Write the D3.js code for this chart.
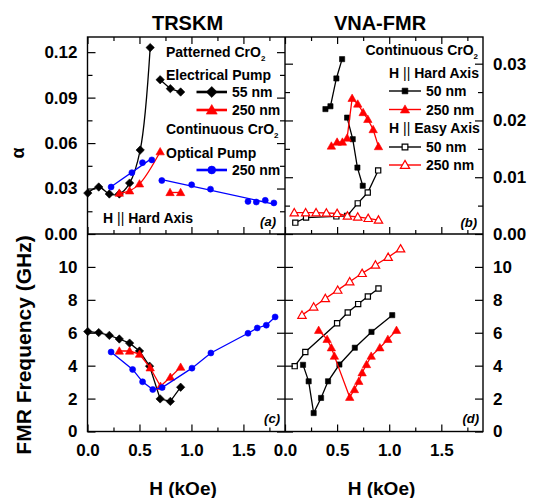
<!DOCTYPE html>
<html>
<head>
<meta charset="utf-8">
<script src="https://cdn.jsdelivr.net/npm/d3@7"></script>
<style>
  body { margin: 0; background: #fff; }
  text { font-family: "Liberation Sans", Arial, sans-serif; font-weight: bold; }
</style>
</head>
<body>
<svg width="538" height="498"></svg>
<script>
// ---- panel (a): TRSKM damping, [H (kOe), alpha]
const a55 = [[0.003, 0.027], [0.108, 0.031], [0.21, 0.0264], [0.306, 0.0264], [0.405, 0.0336], [0.507, 0.0554], [0.603, 0.123]];
const a55High = [[0.699, 0.1018], [0.797, 0.0959], [0.896, 0.0937]];
const a250 = [[0.306, 0.027], [0.405, 0.0285], [0.5, 0.0331], [0.699, 0.0543]];
const a250High = [[0.794, 0.0274], [0.896, 0.0274]];
const aOpt = [[0.227, 0.031], [0.427, 0.0405], [0.529, 0.0471], [0.619, 0.0489]];
const aOptHigh = [[0.715, 0.0353], [1.002, 0.0325], [1.183, 0.0296], [1.544, 0.0215], [1.624, 0.0211], [1.71, 0.0222], [1.793, 0.0205]];

// ---- panel (b): VNA-FMR damping
const bHard50 = [[0.388, 0.0220], [0.436, 0.0225], [0.493, 0.0274], [0.548, 0.0308]];
const bHard50High = [[0.596, 0.0205], [0.65, 0.0167], [0.695, 0.0117], [0.746, 0.0085]];
const bHard250 = [[0.445, 0.0155], [0.5, 0.0162], [0.551, 0.0162], [0.596, 0.0169], [0.644, 0.0239], [0.698, 0.0229], [0.75, 0.0214], [0.795, 0.0202], [0.846, 0.0184], [0.897, 0.0154]];
const bEasy50 = [[0.099, 0.0020], [0.202, 0.0029], [0.493, 0.0031], [0.596, 0.0032], [0.698, 0.0054], [0.794, 0.0073], [0.894, 0.0112]];
const bEasy250 = [[0.089, 0.00375], [0.198, 0.00375], [0.298, 0.00375], [0.397, 0.0037], [0.5, 0.00364], [0.599, 0.00317], [0.698, 0.0030], [0.798, 0.00276], [0.897, 0.00246]];

// ---- panel (c): TRSKM frequency, [H (kOe), GHz]
const c55 = [[0.003, 6.07], [0.108, 6.01], [0.21, 5.84], [0.306, 5.62], [0.405, 5.37], [0.5, 4.89], [0.597, 3.97], [0.699, 1.98], [0.797, 1.83], [0.896, 2.69]];
const c250 = [[0.306, 4.89], [0.405, 4.89], [0.5, 4.7], [0.603, 3.87], [0.702, 2.75], [0.797, 3.3], [0.896, 3.91]];
const cOpt = [[0.227, 4.83], [0.434, 3.77], [0.53, 3.02], [0.628, 2.55], [0.718, 2.67], [1.005, 3.85], [1.187, 4.77], [1.544, 5.97], [1.633, 6.29], [1.72, 6.46], [1.805, 6.96]];

// ---- panel (d): VNA-FMR frequency
const dEasy250 = [[0.163, 7.07], [0.275, 7.57], [0.387, 8.08], [0.506, 8.59], [0.621, 9.1], [0.74, 9.61], [0.868, 10.12], [0.99, 10.59], [1.109, 11.1]];
const dEasy50 = [[0.093, 3.97], [0.195, 4.83], [0.5, 6.58], [0.602, 7.23], [0.702, 7.74], [0.795, 8.2], [0.897, 8.69]];
const dHard50 = [[0.173, 4.05], [0.227, 3.05], [0.275, 1.12], [0.346, 2.04], [0.413, 3.05], [0.522, 4.07], [0.67, 5.09], [0.83, 6.05], [1.029, 7.07]];
const dHard250 = [[0.323, 6.15], [0.404, 5.6], [0.445, 5.09], [0.474, 4.58], [0.621, 2.08], [0.666, 2.55], [0.708, 3.05], [0.74, 3.57], [0.782, 4.07], [0.827, 4.58], [0.91, 5.09], [0.987, 5.6], [1.07, 6.15]];

// ticks
const xMajor = [0, 0.5, 1.0, 1.5];
const xMinor = [0.25, 0.75, 1.25, 1.75];
const alphaMajor = [0, 0.03, 0.06, 0.09, 0.12];
const alphaMinor = [0.015, 0.045, 0.075, 0.105];
const alphaVnaMajor = [0, 0.01, 0.02, 0.03];
const alphaVnaMinor = [0.005, 0.015, 0.025];
const freqMajor = [0, 2, 4, 6, 8, 10];

const svg = d3.select('svg');
const BLACK = '#000', RED = '#ff0000', BLUE = '#0000ff';

const xLeft = 87.5, xMid = 285, xRight = 483, yTop = 37, yMid = 234, yBottom = 431.5;

const xL = d3.scaleLinear().domain([0, 1.9]).range([xLeft, xMid]);
const xR = d3.scaleLinear().domain([0, 1.9]).range([xMid, xRight]);
const yA = d3.scaleLinear().domain([0, 0.13]).range([yMid, yTop]);
const yB = d3.scaleLinear().domain([0, 0.0347]).range([yMid, yTop]);
const yF = d3.scaleLinear().domain([0, 12]).range([yBottom, yMid]);

const shapes = {
    diamond: r => `M0,${-r}L${r},0L0,${r}L${-r},0Z`,
    tri: r => `M0,${-r}L${r},${r * 0.75}L${-r},${r * 0.75}Z`,
    square: r => `M${-r},${-r}H${r}V${r}H${-r}Z`,
    circle: r => `M${r},0A${r},${r} 0 1,1 ${-r},0A${r},${r} 0 1,1 ${r},0Z`
};
const sizes = {diamond: 4.2, tri: 4.2, square: 2.6, circle: 3};

// least squares line over the points, drawn between first and last x
const linFit = pts => {
    const mx = d3.mean(pts, d => d[0]), my = d3.mean(pts, d => d[1]);
    const k = d3.sum(pts, d => (d[0] - mx) * (d[1] - my)) / d3.sum(pts, d => (d[0] - mx) ** 2);
    const x0 = pts[0][0], x1 = pts[pts.length - 1][0];
    return [[x0, my + k * (x0 - mx)], [x1, my + k * (x1 - mx)]];
};

const series = [
    {pts: a55, x: xL, y: yA, c: BLACK, m: 'diamond', curve: d3.curveCatmullRom},
    {pts: a55High, x: xL, y: yA, c: BLACK, m: 'diamond'},
    {pts: a250, x: xL, y: yA, c: RED, m: 'tri', curve: d3.curveMonotoneX},
    {pts: a250High, x: xL, y: yA, c: RED, m: 'tri'},
    {pts: aOpt, x: xL, y: yA, c: BLUE, m: 'circle', fit: true},
    {pts: aOptHigh, x: xL, y: yA, c: BLUE, m: 'circle', fit: true},

    {pts: bEasy50, x: xR, y: yB, c: BLACK, m: 'square', open: true},
    {pts: bEasy250, x: xR, y: yB, c: RED, m: 'tri', open: true},
    {pts: bHard50, x: xR, y: yB, c: BLACK, m: 'square'},
    {pts: bHard50High, x: xR, y: yB, c: BLACK, m: 'square'},
    {pts: bHard250, x: xR, y: yB, c: RED, m: 'tri'},

    {pts: c55, x: xL, y: yF, c: BLACK, m: 'diamond'},
    {pts: c250, x: xL, y: yF, c: RED, m: 'tri'},
    {pts: cOpt, x: xL, y: yF, c: BLUE, m: 'circle'},

    {pts: dEasy250, x: xR, y: yF, c: RED, m: 'tri', open: true},
    {pts: dEasy50, x: xR, y: yF, c: BLACK, m: 'square', open: true},
    {pts: dHard50, x: xR, y: yF, c: BLACK, m: 'square'},
    {pts: dHard250, x: xR, y: yF, c: RED, m: 'tri'}
];

const plot = svg.append('g');

series.forEach(s => {
    const line = d3.line()
        .x(d => s.x(d[0]))
        .y(d => s.y(d[1]))
        .curve(s.curve || d3.curveLinear);
    plot.append('path')
        .attr('d', line(s.fit ? linFit(s.pts) : s.pts))
        .attr('fill', 'none')
        .attr('stroke', s.c)
        .attr('stroke-width', 1.3);
    plot.selectAll(null).data(s.pts)
        .enter().append('path')
        .attr('transform', d => `translate(${s.x(d[0])},${s.y(d[1])})`)
        .attr('d', shapes[s.m](sizes[s.m]))
        .attr('fill', s.open ? '#fff' : s.c)
        .attr('stroke', s.c)
        .attr('stroke-width', s.open ? 1.2 : 0.6);
});

// ---- axes
const styleAxis = g => {
    g.select('.domain').remove();
    g.selectAll('line').attr('stroke', '#000').attr('stroke-width', 1.2);
    g.selectAll('text')
        .attr('font-family', '"Liberation Sans", Arial, sans-serif')
        .attr('font-weight', 'bold')
        .attr('font-size', 17)
        .attr('fill', '#000');
};

const addAxis = (axis, tx, ty) =>
    svg.append('g')
        .attr('transform', `translate(${tx},${ty})`)
        .call(axis)
        .call(styleAxis);

// x axes
[xL, xR].forEach(x => {
    addAxis(d3.axisBottom(x).tickValues(xMajor).tickSize(-7).tickPadding(12).tickFormat(d3.format('.1f')), 0, yBottom);
    addAxis(d3.axisBottom(x).tickValues(xMinor).tickSize(-4).tickFormat(''), 0, yBottom);
    addAxis(d3.axisBottom(x).tickValues(xMajor).tickSize(-7).tickFormat(''), 0, yMid);
    addAxis(d3.axisBottom(x).tickValues(xMinor).tickSize(-4).tickFormat(''), 0, yMid);
    addAxis(d3.axisTop(x).tickValues(xMajor).tickSize(-7).tickFormat(''), 0, yTop);
    addAxis(d3.axisTop(x).tickValues(xMinor).tickSize(-4).tickFormat(''), 0, yTop);
});

// alpha axes
addAxis(d3.axisLeft(yA).tickValues(alphaMajor).tickSize(-8).tickPadding(10).tickFormat(d3.format('.2f')), xLeft, 0);
addAxis(d3.axisLeft(yA).tickValues(alphaMinor).tickSize(-5).tickFormat(''), xLeft, 0);
addAxis(d3.axisRight(yA).tickValues(alphaMajor).tickSize(-8).tickFormat(''), xMid, 0);
addAxis(d3.axisRight(yA).tickValues(alphaMinor).tickSize(-5).tickFormat(''), xMid, 0);

addAxis(d3.axisRight(yB).tickValues(alphaVnaMajor).tickSize(-8).tickPadding(10).tickFormat(d3.format('.2f')), xRight, 0);
addAxis(d3.axisRight(yB).tickValues(alphaVnaMinor).tickSize(-5).tickFormat(''), xRight, 0);
addAxis(d3.axisLeft(yB).tickValues(alphaVnaMajor).tickSize(-8).tickFormat(''), xMid, 0);
addAxis(d3.axisLeft(yB).tickValues(alphaVnaMinor).tickSize(-5).tickFormat(''), xMid, 0);

// frequency axes
addAxis(d3.axisLeft(yF).tickValues(freqMajor).tickSize(-8).tickPadding(10).tickFormat(d3.format('d')), xLeft, 0);
addAxis(d3.axisRight(yF).tickValues(freqMajor).tickSize(-8).tickFormat(''), xMid, 0);
addAxis(d3.axisLeft(yF).tickValues(freqMajor).tickSize(-8).tickFormat(''), xMid, 0);
addAxis(d3.axisRight(yF).tickValues(freqMajor).tickSize(-8).tickPadding(10).tickFormat(d3.format('d')), xRight, 0);

// frame
svg.append('rect')
    .attr('x', xLeft).attr('y', yTop)
    .attr('width', xRight - xLeft).attr('height', yBottom - yTop)
    .attr('fill', 'none').attr('stroke', '#000').attr('stroke-width', 1.4);
svg.append('line').attr('x1', xLeft).attr('x2', xRight).attr('y1', yMid).attr('y2', yMid)
    .attr('stroke', '#000').attr('stroke-width', 1.4);
svg.append('line').attr('x1', xMid).attr('x2', xMid).attr('y1', yTop).attr('y2', yBottom)
    .attr('stroke', '#000').attr('stroke-width', 1.4);

// ---- titles and axis labels
const label = (x, y, txt, size, opts = {}) => {
    const t = svg.append('text')
        .attr('x', x).attr('y', y)
        .attr('font-size', size)
        .attr('text-anchor', opts.anchor || 'start')
        .text(txt);
    if (opts.italic) t.attr('font-style', 'italic');
    return t;
};

label(187.5, 29.5, 'TRSKM', 20, {anchor: 'middle'});
label(380, 29.5, 'VNA-FMR', 20, {anchor: 'middle'});
label(183, 495, 'H (kOe)', 19, {anchor: 'middle'});
label(381.5, 495, 'H (kOe)', 19, {anchor: 'middle'});

svg.append('text')
    .attr('transform', 'translate(24,153) rotate(-90)')
    .attr('text-anchor', 'middle')
    .attr('font-size', 18)
    .attr('font-weight', 'normal')
    .text('α');
svg.append('text')
    .attr('transform', 'translate(31,345) rotate(-90)')
    .attr('text-anchor', 'middle')
    .attr('font-size', 21)
    .text('FMR Frequency (GHz)');

// ---- legends
const crO2 = (x, y) => {
    const t = label(x, y, 'Continuous CrO', 14);
    t.append('tspan').attr('font-size', 8).attr('dy', 4).text('2');
    return t;
};
const axisNote = (x, y, kind) => {
    const t = label(x, y, 'H ', 14);
    t.append('tspan').attr('font-weight', 'normal').text('||');
    t.append('tspan').text(` ${kind} Axis`);
};
const legendItem = (x0, x1, y, c, m, open, txt, big) => {
    svg.append('line').attr('x1', x0).attr('x2', x1).attr('y1', y).attr('y2', y)
        .attr('stroke', c).attr('stroke-width', big ? 2.6 : 1.4);
    svg.append('path')
        .attr('transform', `translate(${(x0 + x1) / 2},${y})`)
        .attr('d', shapes[m](sizes[m] * (big ? 1.3 : 1.1)))
        .attr('fill', open ? '#fff' : c)
        .attr('stroke', c).attr('stroke-width', open ? 1.2 : 0.6);
    label(x1 + 5, y + 5, txt, 14);
};

// (a)
const pat = label(166, 57, 'Patterned CrO', 14);
pat.append('tspan').attr('font-size', 8).attr('dy', 4).text('2');
label(166, 80, 'Electrical Pump', 14);
legendItem(196.5, 227, 92, BLACK, 'diamond', false, '55 nm', true);
legendItem(196.5, 227, 110, RED, 'tri', false, '250 nm', true);
crO2(166, 134);
label(166, 157.5, 'Optical Pump', 14);
legendItem(196.5, 227, 170, BLUE, 'circle', false, '250 nm', true);
axisNote(103, 223, 'Hard');
label(276, 226, '(a)', 13, {anchor: 'end', italic: true});

// (b)
crO2(365.5, 55);
axisNote(389, 77.5, 'Hard');
legendItem(389, 421, 91, BLACK, 'square', false, '50 nm');
legendItem(389, 421, 109.5, RED, 'tri', false, '250 nm');
axisNote(389, 133, 'Easy');
legendItem(389, 421, 147, BLACK, 'square', true, '50 nm');
legendItem(389, 421, 165, RED, 'tri', true, '250 nm');
label(477, 227, '(b)', 13, {anchor: 'end', italic: true});

// (c), (d)
label(280, 423, '(c)', 13, {anchor: 'end', italic: true});
label(479, 423, '(d)', 13, {anchor: 'end', italic: true});
</script>
</body>
</html>
